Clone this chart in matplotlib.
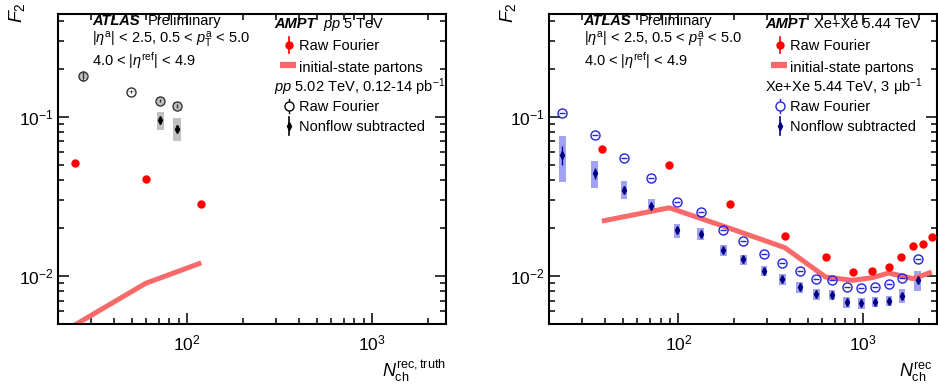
import numpy as np
import matplotlib.pyplot as plt
from matplotlib.patches import Rectangle
from matplotlib.ticker import LogLocator, NullFormatter

plt.rcParams['font.family'] = ['Liberation Sans', 'DejaVu Sans']
plt.rcParams['mathtext.fontset'] = 'custom'
plt.rcParams['mathtext.rm'] = 'Liberation Sans'
plt.rcParams['mathtext.it'] = 'Liberation Sans:italic'
plt.rcParams['mathtext.bf'] = 'Liberation Sans:bold'

# =====================================================
# Data: pp 5 TeV (left)
# =====================================================

pp_ampt_n = [24.8, 59.6, 119]
pp_ampt_raw = [0.0513, 0.0408, 0.0284]
pp_ampt_init = [0.00495, 0.0090, 0.0121]

pp_data_n = [27.3, 49.7, 71.4, 87.9]
pp_data_raw = [0.180, 0.1434, 0.1259, 0.1167]
pp_data_raw_err = [0.012, 0.003, 0.003, 0.003]
pp_data_raw_syst = [0.009, 0.0012, 0.007, 0.006]

pp_sub_n = [71.4, 87.9]
pp_sub = [0.0948, 0.0842]
pp_sub_err = [0.004, 0.004]
pp_sub_syst = [0.0128, 0.014]

# =====================================================
# Data: Xe+Xe 5.44 TeV (right)
# =====================================================

xe_ampt_n = [38.5, 89.2, 190, 377, 626, 876, 1122, 1372, 1611, 1852, 2104, 2350]
xe_ampt_raw = [0.0628, 0.0498, 0.0282, 0.01773, 0.0131, 0.01059,
               0.01075, 0.01134, 0.01323, 0.01535, 0.01596, 0.01754]
xe_ampt_init = [0.0221, 0.0268, 0.0199, 0.01506, 0.00986, 0.0094,
                0.00977, 0.01044, 0.01003, 0.00963, 0.0101, 0.0106]

xe_data_n = [23.5, 35.2, 50.7, 71.4, 98.4, 132, 175, 225, 291, 365,
             454, 558, 677, 814, 979, 1160, 1377, 1624, 1970]
xe_data_raw = [0.1054, 0.0764, 0.0553, 0.0413, 0.0292, 0.0253, 0.0195,
               0.0166, 0.0138, 0.01213, 0.01075, 0.00958, 0.0094, 0.00853,
               0.00841, 0.00853, 0.00891, 0.00977, 0.01273]
xe_sub = [0.0575, 0.0440, 0.0348, 0.0276, 0.0193, 0.0184, 0.0145, 0.0127,
          0.01075, 0.00954, 0.0085, 0.00768, 0.00765, 0.00684, 0.00675,
          0.00688, 0.00702, 0.00754, 0.0094]
xe_sub_err = [0.0075, 0.0033, 0.0018, 0.0012, 0.0007, 0.0006, 0.0004,
              0.0004, 0.0003, 0.0003, 0.0002, 0.0002, 0.0002, 0.0002,
              0.0002, 0.0002, 0.0002, 0.0002, 0.0003]
xe_sub_syst = [0.0186, 0.0085, 0.0046, 0.0028, 0.0020, 0.0015, 0.0011,
               0.0009, 0.0008, 0.0007, 0.00062, 0.00056, 0.00056, 0.0005,
               0.0005, 0.0005, 0.0005, 0.0008, 0.0014]

RED = '#ff0000'
LINE_RED = '#f86a6a'
BLUE = '#2424dc'
NAVY = '#000080'
BLUE_BOX = '#a2a2f4'
GRAY_BOX = '#c0c0c0'


# =====================================================
# Helpers
# =====================================================

def boxes(ax, x, y, syst, half_dex, color):
    for xi, yi, si in zip(x, y, syst):
        lo = xi * 10**-half_dex
        hi = xi * 10**half_dex
        ax.add_patch(Rectangle((lo, yi - si), hi - lo, 2 * si,
                               facecolor=color, edgecolor='none', zorder=1))


def style_axes(ax):
    ax.set_xscale('log')
    ax.set_yscale('log')
    ax.set_xlim(20, 2500)
    ax.set_ylim(0.005, 0.44)
    for a in (ax.xaxis, ax.yaxis):
        a.set_minor_locator(LogLocator(base=10, subs=np.arange(2, 10)))
        a.set_minor_formatter(NullFormatter())
    ax.tick_params(which='both', direction='in', top=True, right=True,
                   labelsize=12.5, width=1.1)
    ax.tick_params(which='major', length=8)
    ax.tick_params(which='minor', length=4.5)
    ax.tick_params(axis='x', which='major', pad=7)
    ax.tick_params(axis='y', which='major', pad=3)
    for s in ax.spines.values():
        s.set_linewidth(1.5)


def header(ax, line_a, line_b):
    t = ax.transAxes
    ax.text(0.089, 0.965, 'ATLAS', transform=t, fontsize=10.5,
            fontweight='bold', style='italic', va='baseline')
    ax.text(0.231, 0.965, 'Preliminary', transform=t, fontsize=10.5,
            va='baseline')
    ax.text(0.089, 0.905, r'$|\eta^{\rm a}|$ < 2.5, 0.5 < $p_{\rm T}^{\rm a}$ < 5.0',
            transform=t, fontsize=10.5, va='baseline')
    ax.text(0.089, 0.832, r'4.0 < $|\eta^{\rm ref}|$ < 4.9',
            transform=t, fontsize=10.5, va='baseline')
    # legend block
    ax.text(0.557, 0.954, 'AMPT', transform=t, fontsize=10.5,
            fontweight='bold', style='italic', va='baseline')
    ax.text(0.683, 0.954, line_a, transform=t, fontsize=10.5, va='baseline')
    ax.text(0.557, 0.750, line_b, transform=t, fontsize=10.5, va='baseline')

    mx, tx = 0.596, 0.622
    ax.plot([mx], [0.900], 'o', color=RED, ms=5, transform=t, clip_on=False)
    ax.plot([mx, mx], [0.873, 0.927], color=RED, lw=1.2, transform=t)
    ax.text(tx, 0.884, 'Raw Fourier', transform=t, fontsize=10.5, va='baseline')

    ax.plot([0.572, 0.613], [0.836, 0.836], color=LINE_RED, lw=4.5,
            solid_capstyle='butt', transform=t)
    ax.text(tx, 0.812, 'initial-state partons', transform=t, fontsize=10.5,
            va='baseline')

    return mx, tx


# =====================================================
# Left panel: pp
# =====================================================

def plot_pp(ax):
    style_axes(ax)

    boxes(ax, pp_sub_n, pp_sub, pp_sub_syst, 0.02, GRAY_BOX)
    boxes(ax, pp_data_n, pp_data_raw, pp_data_raw_syst, 0.02, GRAY_BOX)

    ax.plot(pp_ampt_n, pp_ampt_init, color=LINE_RED, lw=3.6,
            solid_capstyle='butt', zorder=2)
    ax.plot(pp_ampt_n, pp_ampt_raw, 'o', color=RED, ms=5, zorder=3)

    ax.errorbar(pp_data_n, pp_data_raw, yerr=pp_data_raw_err, fmt='o',
                mfc='none', mec='#333333', mew=1.0, ms=6.5,
                ecolor='#333333', elinewidth=1, capsize=0, zorder=3)
    ax.errorbar(pp_sub_n, pp_sub, yerr=pp_sub_err, fmt='d', color='black',
                ms=4, elinewidth=1, capsize=0, zorder=3)

    mx, tx = header(ax, r'$pp$ 5 TeV', r'$pp$ 5.02 TeV, 0.12-14 pb$^{-1}$')
    t = ax.transAxes
    ax.plot([mx], [0.703], 'o', mfc='white', mec='black', mew=1.0, ms=6.5,
            transform=t)
    ax.plot([mx, mx], [0.68, 0.726], color='black', lw=1, transform=t,
            zorder=1)
    ax.text(tx, 0.687, 'Raw Fourier', transform=t, fontsize=10.5, va='baseline')
    ax.plot([mx], [0.639], 'd', color='black', ms=4, transform=t)
    ax.plot([mx, mx], [0.61, 0.668], color='black', lw=1.2, transform=t)
    ax.text(tx, 0.623, 'Nonflow subtracted', transform=t, fontsize=10.5,
            va='baseline')

    ax.text(1.0, -0.17, r'$N_{\rm ch}^{\rm rec,truth}$', transform=t,
            fontsize=13, ha='right', va='baseline')


# =====================================================
# Right panel: Xe+Xe
# =====================================================

def plot_xexe(ax):
    style_axes(ax)

    boxes(ax, xe_data_n, xe_sub, xe_sub_syst, 0.018, BLUE_BOX)

    ax.plot(xe_ampt_n, xe_ampt_init, color=LINE_RED, lw=3.6,
            solid_capstyle='butt', zorder=2)
    ax.plot(xe_ampt_n, xe_ampt_raw, 'o', color=RED, ms=5, zorder=3)

    ax.plot(xe_data_n, xe_data_raw, 'o', mfc='none', mec=BLUE, mew=1.0,
            ms=6.5, zorder=3)
    ax.plot(xe_data_n, xe_data_raw, '_', color=BLUE, ms=5, mew=1.0, zorder=3)
    ax.errorbar(xe_data_n, xe_sub, yerr=xe_sub_err, fmt='d', color=NAVY,
                ms=4, elinewidth=1, capsize=0, zorder=3)

    mx, tx = header(ax, 'Xe+Xe 5.44 TeV', r'Xe+Xe 5.44 TeV, 3 μb$^{-1}$')
    t = ax.transAxes
    ax.plot([mx], [0.703], 'o', mfc='white', mec=BLUE, mew=1.0, ms=6.5,
            transform=t)
    ax.plot([mx, mx], [0.68, 0.726], color=BLUE, lw=1, transform=t, zorder=1)
    ax.text(tx, 0.687, 'Raw Fourier', transform=t, fontsize=10.5, va='baseline')
    ax.plot([mx], [0.639], 'd', color=NAVY, ms=4, transform=t)
    ax.plot([mx, mx], [0.61, 0.668], color=NAVY, lw=1.2, transform=t)
    ax.text(tx, 0.623, 'Nonflow subtracted', transform=t, fontsize=10.5,
            va='baseline')

    # the reference is cropped here, only "rec" of the label is visible
    ax.text(0.99, -0.17, r'$N_{\rm ch}^{\rm rec}$', transform=t,
            fontsize=13, ha='right', va='baseline')


# =====================================================
# Main
# =====================================================

def main():
    fig = plt.figure(figsize=(9.38, 3.88), dpi=100)

    ax1 = fig.add_axes([0.0618, 0.1649, 0.4136, 0.799])
    ax2 = fig.add_axes([0.5856, 0.1649, 0.4130, 0.799])

    plot_pp(ax1)
    plot_xexe(ax2)

    fig.text(17 / 938, 1 - 2 / 388, r'$F_{2}$', rotation=90, fontsize=14,
             ha='center', va='top')
    fig.text(508 / 938, 1 - 2 / 388, r'$F_{2}$', rotation=90, fontsize=14,
             ha='center', va='top')

    fig.savefig('out.png', dpi=100)


if __name__ == "__main__":
    main()
